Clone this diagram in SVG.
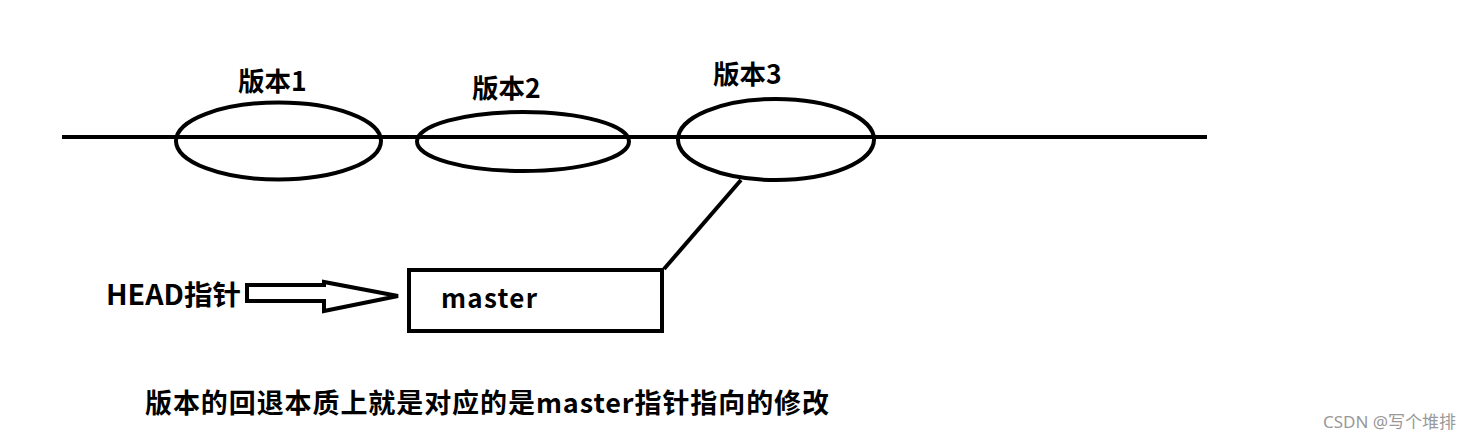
<svg xmlns="http://www.w3.org/2000/svg" width="1475" height="441" viewBox="0 0 1475 441">
<style>
.s{fill:none;stroke:#000;stroke-width:4}
.t{font-family:"Noto Sans CJK SC","Noto Sans",sans-serif;font-weight:bold;fill:#000}
</style>
<rect width="1475" height="441" fill="#fff"/>
<g id="connectors">
<line class="s" x1="62" y1="137" x2="1207" y2="137"/>
<line class="s" x1="741" y1="180" x2="664" y2="269"/>
<polygon class="s" points="247,285 324,285 324,282 398,296 324,311 324,301 247,301"/>
</g>
<g id="v1"><ellipse class="s" cx="278.5" cy="141" rx="102.5" ry="38.5"/><text class="t" x="238" y="91" font-size="26.5">版本1</text></g>
<g id="v2"><ellipse class="s" cx="523" cy="141.5" rx="106" ry="29.5"/><text class="t" x="472" y="98" font-size="26.5">版本2</text></g>
<g id="v3"><ellipse class="s" cx="776" cy="139.5" rx="98" ry="40.5"/><text class="t" x="713" y="84" font-size="26.5">版本3</text></g>
<g id="master"><rect class="s" x="409" y="270" width="253" height="61"/><text class="t" x="441" y="308" font-size="26" textLength="96">master</text></g>
<g id="head"><text class="t" x="106" y="305" font-size="27.5" textLength="135" lengthAdjust="spacingAndGlyphs">HEAD指针</text></g>
<g id="caption"><text class="t" x="145" y="413" font-size="27" textLength="684">版本的回退本质上就是对应的是master指针指向的修改</text></g>
<text x="1323" y="428" font-family="'Noto Sans','Noto Sans CJK SC',sans-serif" font-size="17" fill="#999">CSDN @写个堆排</text>
</svg>
